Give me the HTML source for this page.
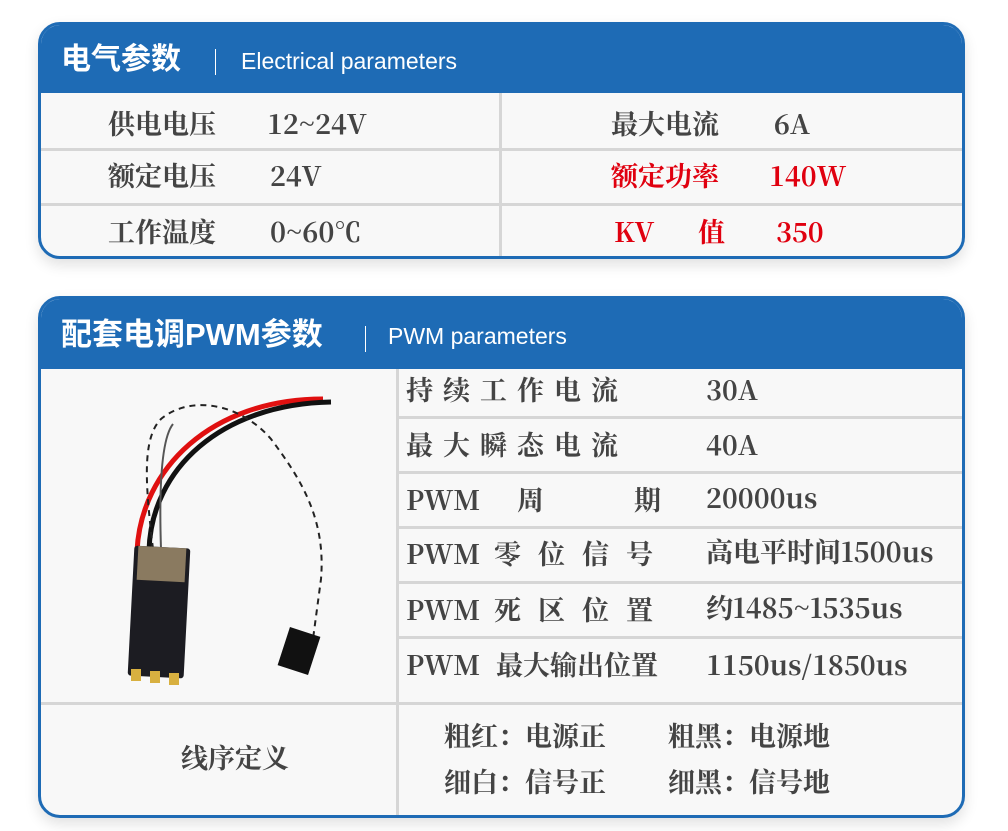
<!DOCTYPE html>
<html><head><meta charset="utf-8"><style>
body{margin:0;width:1008px;height:831px;background:#fff;position:relative;overflow:hidden;font-family:"Noto Serif CJK SC","Liberation Serif",serif;}
.card{position:absolute;left:38px;width:921px;border:3px solid #1e6bb5;border-radius:22px;background:#f8f8f8;overflow:hidden;box-shadow:0 6px 14px rgba(0,0,0,0.12);}
.hd{position:absolute;left:0;top:0;right:0;height:68px;background:#1e6bb5;color:#fff;}
.hd .t{position:absolute;left:20px;top:0;font:bold 30px "Liberation Sans","Noto Sans CJK SC",sans-serif;line-height:70px;}
.hd .bar{position:absolute;top:24px;width:1px;height:26px;background:#fff;}
.hd .e{position:absolute;top:0;font:23px "Liberation Sans",sans-serif;line-height:72px;}
.hl{position:absolute;height:3px;background:#d6d6d6;}
.vl{position:absolute;width:3px;background:#d6d6d6;}
.tx{position:absolute;font-weight:bold;font-size:27px;color:#444;white-space:pre;line-height:1;}
.r{color:#e0000f;}
</style></head><body>
<div class="card" style="top:22px;height:231px;">
 <div class="hd"><div class="t">电气参数</div><div class="bar" style="left:174px"></div><div class="e" style="left:200px">Electrical parameters</div></div>
 <div class="hl" style="left:0;right:0;top:123px"></div>
 <div class="hl" style="left:0;right:0;top:178px"></div>
 <div class="vl" style="left:458px;top:68px;bottom:0"></div>
 <div class="tx" style="left:67px;top:84px">供电电压</div>
 <div class="tx" style="left:226px;top:84px">12~24V</div>
 <div class="tx" style="left:67px;top:136px">额定电压</div>
 <div class="tx" style="left:229px;top:136px">24V</div>
 <div class="tx" style="left:67px;top:192px">工作温度</div>
 <div class="tx" style="left:229px;top:192px">0~60℃</div>
 <div class="tx" style="left:570px;top:84px">最大电流</div>
 <div class="tx" style="left:733px;top:84px">6A</div>
 <div class="tx r" style="left:570px;top:136px">额定功率</div>
 <div class="tx r" style="left:728px;top:136px">140W</div>
 <div class="tx r" style="left:573px;top:192px">KV</div>
 <div class="tx r" style="left:657px;top:192px">值</div>
 <div class="tx r" style="left:735px;top:192px">350</div>
</div>
<div class="card" style="top:296px;height:516px;">
 <div class="hd" style="height:70px"><div class="t" style="line-height:72px;font-size:31px">配套电调PWM参数</div><div class="bar" style="left:324px;top:27px"></div><div class="e" style="left:347px;line-height:74px">PWM parameters</div></div>
 <div class="vl" style="left:355px;top:70px;bottom:0"></div>
 <div class="hl" style="left:0;right:0;top:403px"></div>
 <div class="hl" style="left:358px;right:0;top:117px"></div>
 <div class="hl" style="left:358px;right:0;top:172px"></div>
 <div class="hl" style="left:358px;right:0;top:227px"></div>
 <div class="hl" style="left:358px;right:0;top:282px"></div>
 <div class="hl" style="left:358px;right:0;top:337px"></div>
 <div class="tx" style="left:365px;top:76px;letter-spacing:10px">持续工作电流</div>
 <div class="tx" style="left:665px;top:76px">30A</div>
 <div class="tx" style="left:365px;top:131px;letter-spacing:10px">最大瞬态电流</div>
 <div class="tx" style="left:665px;top:131px">40A</div>
 <div class="tx" style="left:365px;top:186px">PWM</div>
 <div class="tx" style="left:476px;top:186px">周</div>
 <div class="tx" style="left:593px;top:186px">期</div>
 <div class="tx" style="left:665px;top:184px">20000us</div>
 <div class="tx" style="left:365px;top:240px">PWM</div>
 <div class="tx" style="left:453px;top:240px;letter-spacing:17px">零位信号</div>
 <div class="tx" style="left:665px;top:238px">高电平时间1500us</div>
 <div class="tx" style="left:365px;top:296px">PWM</div>
 <div class="tx" style="left:453px;top:296px;letter-spacing:17px">死区位置</div>
 <div class="tx" style="left:665px;top:294px">约1485~1535us</div>
 <div class="tx" style="left:365px;top:351px">PWM</div>
 <div class="tx" style="left:455px;top:351px">最大输出位置</div>
 <div class="tx" style="left:665px;top:351px">1150us/1850us</div>
 <div class="tx" style="left:140px;top:444px">线序定义</div>
 <div class="tx" style="left:403px;top:422px">粗红：电源正</div>
 <div class="tx" style="left:627px;top:422px">粗黑：电源地</div>
 <div class="tx" style="left:403px;top:468px">细白：信号正</div>
 <div class="tx" style="left:627px;top:468px">细黑：信号地</div>
 <svg style="position:absolute;left:0;top:70px" width="355" height="333">
  <path d="M96 182 C100 100 170 30 282 30" stroke="#e01010" stroke-width="5" fill="none"/>
  <path d="M108 182 C110 100 180 35 290 33" stroke="#111" stroke-width="5" fill="none"/>
  <path d="M112 180 C105 120 100 70 120 50 C150 25 200 35 230 70 C260 110 285 150 280 210 L272 270" stroke="#222" stroke-width="2" stroke-dasharray="6,5" fill="none"/>
  <path d="M120 180 C118 120 120 70 132 55" stroke="#555" stroke-width="2" fill="none"/>
  <rect x="90" y="178" width="56" height="130" rx="3" fill="#1c1c22" transform="rotate(3 118 243)"/>
  <rect x="94" y="178" width="48" height="34" fill="#8a7a60" transform="rotate(3 118 243)"/>
  <rect x="90" y="300" width="10" height="12" fill="#d8b040"/>
  <rect x="109" y="302" width="10" height="12" fill="#d8b040"/>
  <rect x="128" y="304" width="10" height="12" fill="#d8b040"/>
  <rect x="242" y="262" width="32" height="40" fill="#111" transform="rotate(18 258 282)"/>
 </svg>
</div>
</body></html>
